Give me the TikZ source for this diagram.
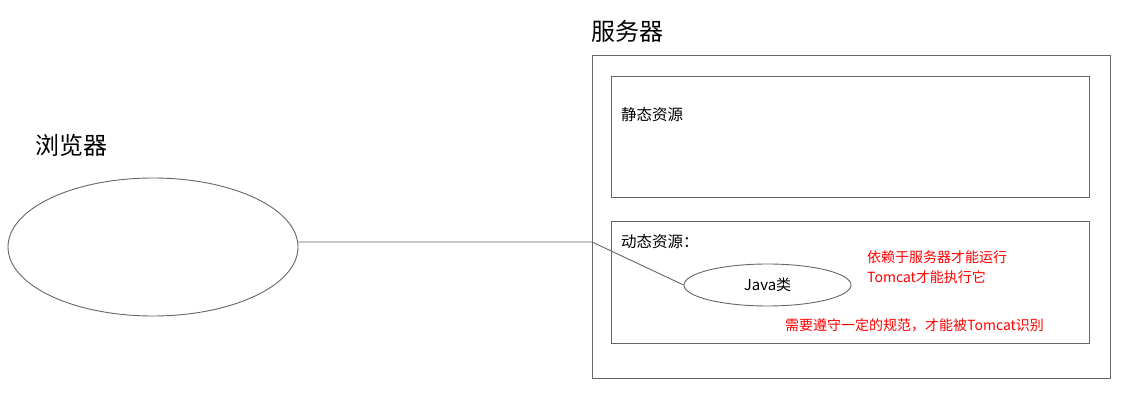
\documentclass[tikz,border=0pt]{standalone}
\usepackage{fontspec}
\setmainfont{Noto Sans CJK SC}
\usetikzlibrary{shapes.geometric}
\begin{document}
\begin{tikzpicture}[x=1pt,y=-1pt,
  line/.style={draw=black!60,line width=0.9pt},
  oval/.style={line,ellipse,inner sep=0pt},
  panel/.style={line},
  title/.style={font=\fontsize{24}{27}\selectfont,anchor=west,inner sep=0pt},
  label/.style={font=\fontsize{15.5}{18}\selectfont,anchor=west,inner sep=0pt},
  note/.style={font=\fontsize{14}{16}\selectfont,text=red,anchor=west,inner sep=0pt}]
\useasboundingbox (0,0) rectangle (1129,419);
% browser side
\node[title] (browserT) at (35,145) {浏览器};
\node[oval,minimum width=290pt,minimum height=138pt] (browser) at (153,247) {};
% server side
\node[title] (serverT) at (591,31) {服务器};
\draw[panel] (592,55) rectangle (1110,378);
\node[panel,minimum width=478pt,minimum height=121pt,inner sep=0pt] (static) at (850,136.5) {};
\node[label] (staticT) at (621,115) {静态资源};
\node[panel,minimum width=478pt,minimum height=122pt,inner sep=0pt] (dynamic) at (850,282) {};
\node[label] (dynamicT) at (621,242) {动态资源：};
\node[oval,minimum width=167pt,minimum height=42pt,font=\fontsize{15}{18}\selectfont] (java) at (767.5,285) {Java类};
\node[note] (n1) at (867,257) {依赖于服务器才能运行};
\node[note] (n2) at (867,277) {Tomcat才能执行它};
\node[note] (n3) at (785,325) {需要遵守一定的规范，才能被Tomcat识别};
% connector
\coordinate (bend) at (592,242);
\draw[line] (browser.east |- bend) -- (bend) -- (java.west);
\end{tikzpicture}
\end{document}
